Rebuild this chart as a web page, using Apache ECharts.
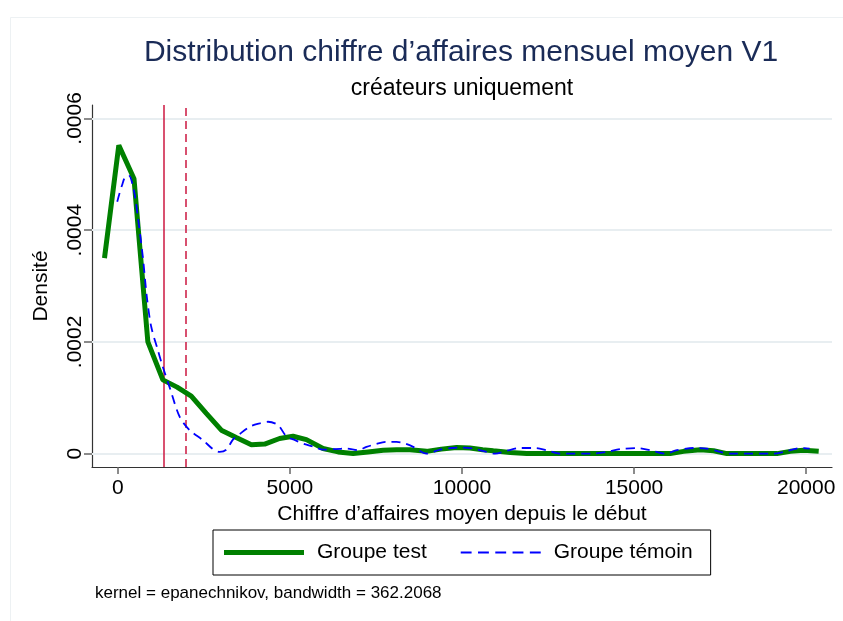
<!DOCTYPE html>
<html>
<head>
<meta charset="utf-8">
<script src="https://cdn.jsdelivr.net/npm/echarts@6/dist/echarts.min.js"></script>
<style>
  html, body { margin: 0; padding: 0; background: #fff; }
  #chart { width: 843px; height: 621px; }
</style>
</head>
<body>
<div id="chart"></div>
<script>
// courbe du groupe test : [chiffre d'affaires, densité]
var groupeTest = [
  [-387, 0.000350], [29, 0.000552], [470, 0.000492], [873, 0.000200],
  [1309, 0.000132], [1722, 0.000119], [2135, 0.000103], [2571, 0.000072],
  [3008, 0.000042], [3440, 0.000029], [3880, 0.000016], [4267, 0.000017],
  [4700, 0.000027], [5090, 0.000031], [5480, 0.000025], [5963, 0.000009],
  [6400, 0.000003], [6836, 0.000000], [7270, 0.000003], [7709, 0.000006],
  [8100, 0.000007], [8486, 0.000007], [8971, 0.000004], [9400, 0.000008],
  [9843, 0.000011], [10231, 0.000010], [10600, 0.000007], [10910, 0.000005],
  [11400, 0.000002], [11880, 0], [13000, 0], [14500, 0], [16050, 0],
  [16438, 0.000004], [16922, 0.000007], [17309, 0.000005], [17697, 0],
  [19152, 0], [19540, 0.000004], [19928, 0.000006], [20364, 0.000004]
];
// courbe du groupe témoin
var groupeTemoin = [
  [-17, 0.000451], [120, 0.000480], [244, 0.000497], [330, 0.000497],
  [419, 0.000484], [500, 0.000460], [582, 0.000424], [727, 0.000352],
  [844, 0.000280], [971, 0.000227], [1164, 0.000185], [1309, 0.000155],
  [1504, 0.000119], [1795, 0.000066], [2086, 0.000042], [2473, 0.000024],
  [2764, 0.000008], [2958, 0.000003], [3152, 0.000007], [3345, 0.000025],
  [3540, 0.000035], [3830, 0.000048], [4122, 0.000054], [4364, 0.000057],
  [4655, 0.000051], [4898, 0.000031], [5150, 0.000024], [5382, 0.000018],
  [5700, 0.000012], [5963, 0.000007], [6300, 0.000008], [6643, 0.000009],
  [6982, 0.000006], [7225, 0.000012], [7500, 0.000017], [7806, 0.000021],
  [8100, 0.000021], [8292, 0.000019], [8583, 0.000012], [8971, 0],
  [9359, 0.000007], [9700, 0.000010], [9940, 0.000011], [10328, 0.000009],
  [10716, 0.000003], [10959, 0], [11299, 0.000005], [11686, 0.000010],
  [12122, 0.000010], [12462, 0.000006], [12850, 0], [13820, 0],
  [14208, 0.000003], [14596, 0.000008], [15080, 0.000010], [15468, 0.000006],
  [15904, 0], [16243, 0.000006], [16728, 0.000010], [17115, 0.000009],
  [17503, 0.000003], [17794, 0], [19055, 0], [19346, 0.000003],
  [19831, 0.000010], [20100, 0.000009]
];
// lignes verticales (moyennes)
var moyenneTest = 1338;
var moyenneTemoin = 1978;
var xTicks = [0, 5000, 10000, 15000, 20000];
var yTicks = [0, 0.0002, 0.0004, 0.0006];

var FONT = "'Liberation Sans', Arial, sans-serif";
var myChart = echarts.init(document.getElementById("chart"));

// lignes de grille horizontales
var gridLines = yTicks.map(function (v) {
  return [{ coord: [-750, v] }, { coord: [20750, v] }];
});

var option = {
  backgroundColor: "#fff",
  animation: false,
  textStyle: { fontFamily: FONT },
  graphic: [
    {
      type: "rect",
      left: 8, top: 15,
      shape: { width: 900, height: 700 },
      style: { fill: "none", stroke: "#edf1f3", lineWidth: 1 },
      silent: true
    },
    {
      type: "text",
      left: 95, top: 585,
      style: { text: "kernel = epanechnikov, bandwidth = 362.2068", font: "17px " + FONT, fill: "#000" }
    }
  ],
  title: [
    {
      text: "Distribution chiffre d’affaires mensuel moyen V1",
      left: 461, top: 38, textAlign: "center", padding: 0,
      textStyle: { color: "#1a2b57", fontSize: 30, fontWeight: "normal", fontFamily: FONT }
    },
    {
      text: "créateurs uniquement",
      left: 462, top: 77, textAlign: "center", padding: 0,
      textStyle: { color: "#000", fontSize: 23, fontWeight: "normal", fontFamily: FONT }
    }
  ],
  legend: {
    left: 213, top: 530,
    padding: [12, 18, 12, 11],
    borderColor: "#000", borderWidth: 1,
    itemWidth: 80, itemHeight: 20, itemGap: 34,
    textStyle: { fontSize: 21, color: "#000", fontFamily: FONT, padding: [0, 0, 0, 8] },
    data: [
      { name: "Groupe test", icon: "path://M0,0H80V5H0Z" },
      {
        name: "Groupe témoin",
        icon: "path://M0,0h11v2h-11z M17.5,0h11v2h-11z M35,0h11v2h-11z M52.5,0h11v2h-11z M70,0h11v2h-11z"
      }
    ]
  },
  grid: { left: 92, right: 11, top: 105, bottom: 154 },
  xAxis: {
    type: "value",
    min: -750, max: 20750,
    name: "Chiffre d’affaires moyen depuis le début",
    nameLocation: "middle", nameGap: 36,
    nameTextStyle: { fontSize: 21, color: "#000", fontFamily: FONT },
    axisLine: { onZero: false, lineStyle: { color: "#333", width: 1.2 } },
    axisTick: { show: true, customValues: xTicks, length: 7, lineStyle: { color: "#666", width: 1.5 } },
    axisLabel: {
      customValues: xTicks, margin: 11, fontSize: 21, color: "#000", fontFamily: FONT,
      formatter: function (v) { return String(v); }
    },
    splitLine: { show: false }
  },
  yAxis: {
    type: "value",
    min: -0.000024, max: 0.000624,
    name: "Densité",
    nameLocation: "middle", nameGap: 40,
    nameTextStyle: { fontSize: 21, color: "#000", fontFamily: FONT },
    axisLine: { show: true, onZero: false, lineStyle: { color: "#333", width: 1.2 } },
    axisTick: { show: true, customValues: yTicks, length: 8, lineStyle: { color: "#666", width: 1.5 } },
    axisLabel: {
      customValues: yTicks, rotate: 90, margin: 6, fontSize: 21, color: "#000", fontFamily: FONT,
      formatter: function (v) {
        if (v === 0) return "0";
        return "." + v.toFixed(4).split(".")[1];
      }
    },
    splitLine: { show: false }
  },
  series: [
    {
      name: "grille",
      type: "line",
      data: [[-750, 0]],
      symbol: "none",
      silent: true,
      z: 1,
      lineStyle: { opacity: 0 },
      markLine: {
        symbol: "none", silent: true, label: { show: false },
        lineStyle: { color: "#e8eef1", width: 2, type: "solid" },
        data: gridLines
      }
    },
    {
      name: "Groupe test",
      type: "line",
      data: groupeTest,
      symbol: "none",
      z: 5,
      lineStyle: { color: "#008000", width: 5 },
      itemStyle: { color: "#008000" },
      markLine: {
        symbol: "none", silent: true, label: { show: false },
        data: [
          { xAxis: moyenneTest, lineStyle: { color: "#cc1740", width: 1.5, type: "solid" } },
          { xAxis: moyenneTemoin, lineStyle: { color: "#cc1740", width: 1.5, type: [8, 5] } }
        ]
      }
    },
    {
      name: "Groupe témoin",
      type: "line",
      data: groupeTemoin,
      symbol: "none",
      smooth: 0.3,
      z: 6,
      lineStyle: { color: "#0000ff", width: 1.8, type: [9, 6] },
      itemStyle: { color: "#0000ff" }
    }
  ]
};

myChart.setOption(option);
window.addEventListener("resize", function () {
  myChart.resize();
});
</script>
</body>
</html>
